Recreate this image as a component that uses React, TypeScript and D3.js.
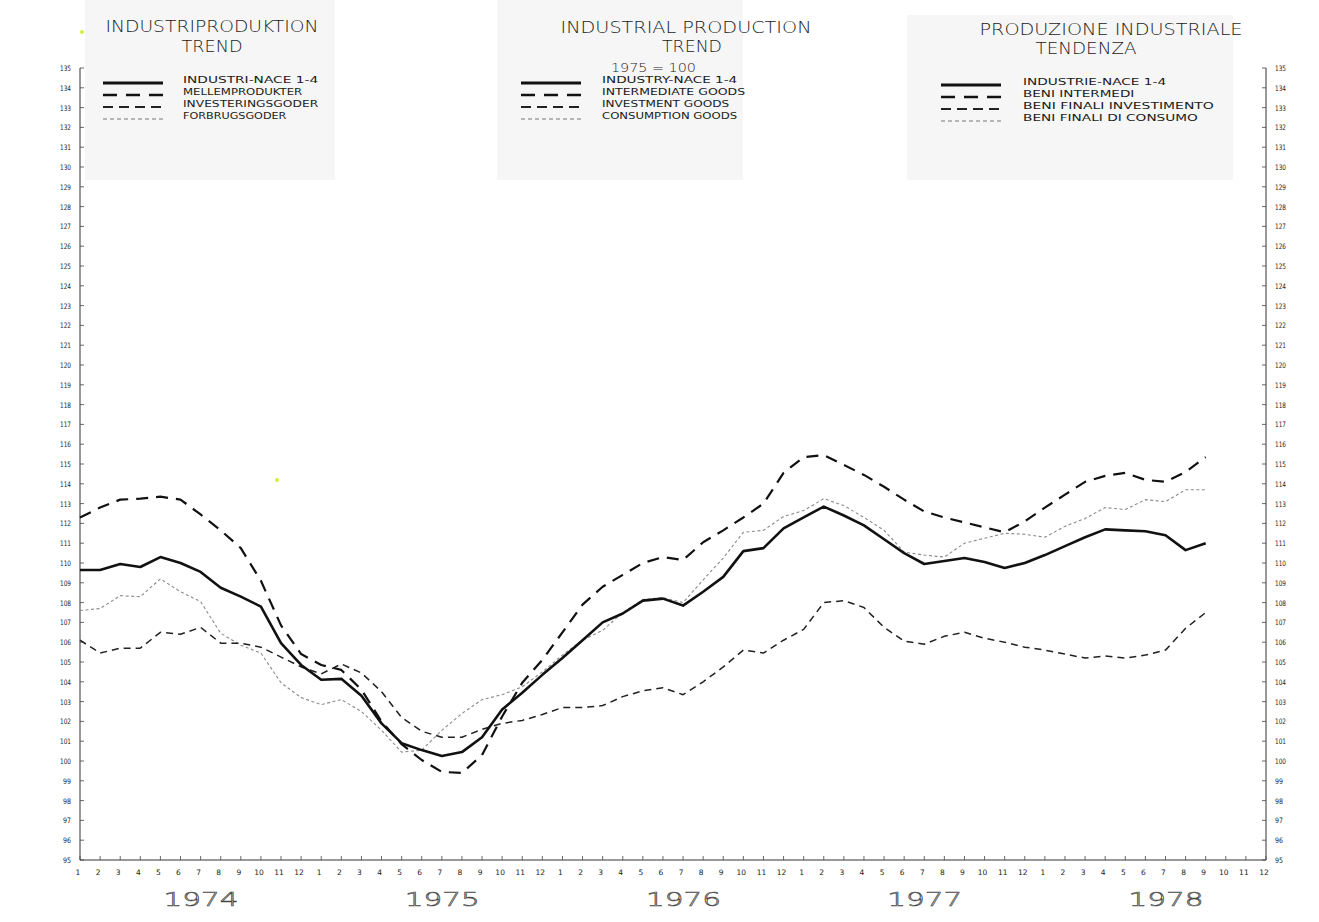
import React from "react";
import * as d3 from "d3";

const MONTHS = ["1", "2", "3", "4", "5", "6", "7", "8", "9", "10", "11", "12"];
const YEARS = ["1974", "1975", "1976", "1977", "1978"];
const Y_TICKS = d3.range(95, 136);

// Monthly trend values, Jan 1974 .. Sep 1978 (1975 = 100)
const INDUSTRY = [
  109.65, 109.65, 109.95, 109.8, 110.3, 110.0, 109.55, 108.75, 108.3, 107.8, 105.95, 104.85,
  104.1, 104.15, 103.3, 101.9, 100.9, 100.55, 100.25, 100.45, 101.2, 102.6, 103.45, 104.35,
  105.2, 106.1, 107.0, 107.45, 108.1, 108.2, 107.85, 108.55, 109.3, 110.6, 110.75, 111.75,
  112.3, 112.85, 112.4, 111.9, 111.2, 110.5, 109.95, 110.1, 110.25, 110.05, 109.75, 110.0,
  110.4, 110.85, 111.3, 111.7, 111.65, 111.6, 111.4, 110.65, 111.0,
];
const INTERMEDIATE = [
  112.3, 112.8, 113.2, 113.25, 113.35, 113.2, 112.45, 111.65, 110.75, 109.1, 106.85, 105.4,
  104.85, 104.6, 103.6, 102.0, 100.85, 100.05, 99.45, 99.4, 100.3, 102.25, 103.95, 105.1,
  106.5, 107.9, 108.8, 109.4, 110.0, 110.3, 110.15, 111.05, 111.65, 112.3, 113.0, 114.55,
  115.35, 115.45, 114.95, 114.45, 113.85, 113.2, 112.6, 112.3, 112.05, 111.8, 111.55, 112.1,
  112.8, 113.45, 114.1, 114.4, 114.55, 114.2, 114.1, 114.6, 115.35,
];
const INVESTMENT = [
  106.1, 105.45, 105.7, 105.7, 106.5, 106.4, 106.75, 105.95, 105.95, 105.75, 105.25, 104.75,
  104.4, 104.9, 104.45, 103.5, 102.2, 101.5, 101.2, 101.2, 101.6, 101.9, 102.05, 102.35,
  102.7, 102.7, 102.8, 103.25, 103.55, 103.7, 103.35, 104.0, 104.75, 105.6, 105.45, 106.1,
  106.65, 108.0, 108.1, 107.75, 106.75, 106.05, 105.9, 106.3, 106.5, 106.2, 106.0, 105.75,
  105.6, 105.4, 105.2, 105.3, 105.2, 105.35, 105.6, 106.7, 107.5,
];
const CONSUMPTION = [
  107.6, 107.7, 108.35, 108.3, 109.2, 108.55, 108.05, 106.45, 105.85, 105.45, 103.95, 103.2,
  102.85, 103.1, 102.5, 101.55, 100.45, 100.55, 101.55, 102.4, 103.1, 103.35, 103.75, 104.5,
  105.35, 106.1, 106.6, 107.5, 108.15, 108.25, 108.0, 109.15, 110.25, 111.55, 111.65, 112.35,
  112.65, 113.25, 112.9, 112.3, 111.65, 110.55, 110.4, 110.3, 111.0, 111.25, 111.5, 111.45,
  111.3, 111.85, 112.25, 112.8, 112.7, 113.2, 113.1, 113.7, 113.7,
];

const LEGEND_DA = ["INDUSTRI-NACE 1-4", "MELLEMPRODUKTER", "INVESTERINGSGODER", "FORBRUGSGODER"];
const LEGEND_EN = ["INDUSTRY-NACE 1-4", "INTERMEDIATE GOODS", "INVESTMENT GOODS", "CONSUMPTION GOODS"];
const LEGEND_IT = ["INDUSTRIE-NACE 1-4", "BENI INTERMEDI", "BENI FINALI INVESTIMENTO", "BENI FINALI DI CONSUMO"];

const TITLE_DA = ["INDUSTRIPRODUKTION", "TREND"];
const TITLE_EN = ["INDUSTRIAL PRODUCTION", "TREND"];
const TITLE_IT = ["PRODUZIONE INDUSTRIALE", "TENDENZA"];
const BASE_NOTE = "1975 = 100";

const W = 1319;
const H = 922;
const FONT = "'DejaVu Sans', 'Liberation Sans', sans-serif";
const INK = "#1a1a1a";

const SERIES = [
  { data: INDUSTRY, width: 2.6, dash: "", color: "#111" },
  { data: INTERMEDIATE, width: 2.2, dash: "12 8", color: "#111" },
  { data: INVESTMENT, width: 1.5, dash: "7 5", color: "#222" },
  { data: CONSUMPTION, width: 1.1, dash: "3 2.5", color: "#8a8a8a" },
];

const LEGEND_SAMPLE = [
  { width: 3.2, dash: "", color: "#111" },
  { width: 2.6, dash: "14 9", color: "#111" },
  { width: 1.8, dash: "10 6", color: "#222" },
  { width: 1.1, dash: "4 3", color: "#777" },
];

export default function App() {
  const x = d3.scaleLinear().domain([0, 59]).range([80, 1266]);
  const y = d3.scaleLinear().domain([95, 135]).range([860, 68]);
  const line = d3
    .line<number>()
    .x((_, i) => x(i))
    .y((d) => y(d));

  const monthIdx = d3.range(0, 60);

  const titleBlock = (lines: string[], spec: { cx: number; w: number; base: number }[]) =>
    lines.map((t, k) => (
      <text
        key={t + k}
        x={spec[k].cx - spec[k].w / 2}
        y={spec[k].base}
        textLength={spec[k].w}
        lengthAdjust="spacingAndGlyphs"
        fontFamily={FONT}
        fontWeight={200}
        fontSize={15}
        fill={INK}
      >
        {t}
      </text>
    ));

  const legend = (labels: string[], lx: number, tx: number, y0: number) =>
    labels.map((lab, k) => {
      const cy = y0 + k * 12;
      const s = LEGEND_SAMPLE[k];
      return (
        <g key={lab}>
          <line
            x1={lx}
            x2={lx + 60}
            y1={cy + 3}
            y2={cy + 3}
            stroke={s.color}
            strokeWidth={s.width}
            strokeDasharray={s.dash || undefined}
          />
          <text
            x={tx}
            y={cy + 3.3}
            textLength={lab.length * 7.95}
            lengthAdjust="spacingAndGlyphs"
            fontFamily={FONT}
            fontSize={8.5}
            fill={INK}
          >
            {lab}
          </text>
        </g>
      );
    });

  return (
    <div style={{ position: "absolute", left: 0, top: 0, width: W, height: H, background: "#fff" }}>
      <svg width={W} height={H} viewBox={`0 0 ${W} ${H}`} style={{ display: "block" }}>
        <rect x={0} y={0} width={W} height={H} fill="#fff" />
        {/* faint scan tint behind the title blocks */}
        <rect x={85} y={0} width={250} height={180} fill="#f6f6f6" />
        <rect x={497} y={0} width={246} height={180} fill="#f6f6f6" />
        <rect x={907} y={15} width={326} height={165} fill="#f6f6f6" />

        {/* titles */}
        {titleBlock(TITLE_DA, [
          { cx: 212, w: 213, base: 32 },
          { cx: 212, w: 61, base: 52 },
        ])}
        {titleBlock(TITLE_EN, [
          { cx: 686, w: 251, base: 33 },
          { cx: 692, w: 60, base: 52 },
        ])}
        <text
          x={611}
          y={72}
          textLength={85}
          lengthAdjust="spacingAndGlyphs"
          fontFamily={FONT}
          fontWeight={200}
          fontSize={11.5}
          fill={INK}
        >
          {BASE_NOTE}
        </text>
        {titleBlock(TITLE_IT, [
          { cx: 1111, w: 263, base: 35 },
          { cx: 1086, w: 101, base: 54 },
        ])}

        {/* legends */}
        {legend(LEGEND_DA, 103, 183, 80)}
        {legend(LEGEND_EN, 521, 602, 80)}
        {legend(LEGEND_IT, 941, 1023, 82)}

        {/* axes */}
        <line x1={x(0)} x2={x(0)} y1={y(135)} y2={y(95)} stroke="#333" strokeWidth={1} />
        <line x1={x(59)} x2={x(59)} y1={y(135)} y2={y(95)} stroke="#333" strokeWidth={1} />
        <line x1={x(0)} x2={x(59)} y1={y(95)} y2={y(95)} stroke="#333" strokeWidth={1} />

        {Y_TICKS.map((v) => (
          <g key={"yt" + v}>
            <line x1={x(0)} x2={x(0) + 4} y1={y(v)} y2={y(v)} stroke="#444" strokeWidth={0.8} />
            <line x1={x(59) - 4} x2={x(59)} y1={y(v)} y2={y(v)} stroke="#444" strokeWidth={0.8} />
            <text
              x={71}
              y={y(v) + 3}
              textAnchor="end"
              fontFamily={FONT}
              fontSize={7.5}
              textLength={v >= 100 ? 11 : 8}
              lengthAdjust="spacingAndGlyphs"
              fill="#222"
            >
              {v}
            </text>
            <text
              x={1275}
              y={y(v) + 3}
              fontFamily={FONT}
              fontSize={7.5}
              textLength={v >= 100 ? 11 : 8}
              lengthAdjust="spacingAndGlyphs"
              fill="#222"
            >
              {v}
            </text>
          </g>
        ))}

        {monthIdx.map((i) => (
          <g key={"m" + i}>
            <line x1={x(i)} x2={x(i)} y1={y(95)} y2={y(95) - 4} stroke="#444" strokeWidth={0.8} />
            <text
              x={x(i) - 2}
              y={875}
              textAnchor="middle"
              fontFamily={FONT}
              fontSize={7.5}
              fill="#222"
            >
              {MONTHS[i % 12]}
            </text>
          </g>
        ))}

        {YEARS.map((yr, k) => (
          <text
            key={yr}
            x={x(k * 12 + 6) - 37}
            y={906}
            textLength={75}
            lengthAdjust="spacingAndGlyphs"
            fontFamily={FONT}
            fontWeight={200}
            fontSize={19}
            fill="#fff"
            stroke="#444"
            strokeWidth={0.6}
          >
            {yr}
          </text>
        ))}

        {/* series */}
        {SERIES.slice()
          .reverse()
          .map((s, k) => (
            <path
              key={"s" + k}
              d={line(s.data) || ""}
              fill="none"
              stroke={s.color}
              strokeWidth={s.width}
              strokeDasharray={s.dash || undefined}
              strokeLinejoin="round"
            />
          ))}

        {/* scan specks */}
        <circle cx={82} cy={32} r={2} fill="#d8ec3a" />
        <circle cx={277} cy={480} r={2} fill="#d8ec3a" />
      </svg>
    </div>
  );
}
